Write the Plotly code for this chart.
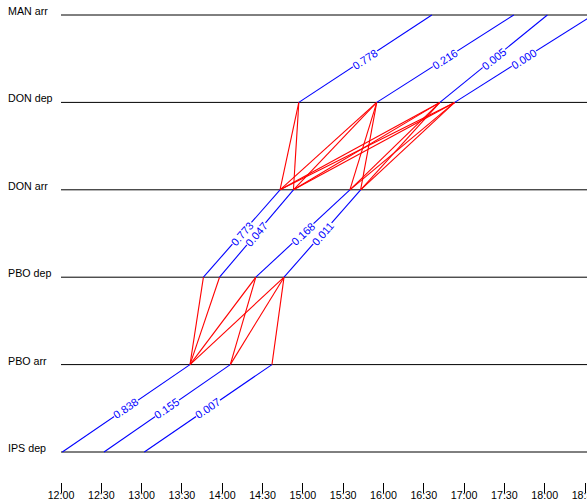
import math
import plotly.graph_objects as go

# ---- data ----
stations = ["IPS dep", "PBO arr", "PBO dep", "DON arr", "DON dep", "MAN arr"]

ips_dep = ["12:01", "12:32", "13:02"]
pbo_arr = ["13:36", "14:06", "14:37"]
leg1_prob = ["0.838", "0.155", "0.007"]

pbo_dep = ["13:46", "13:58", "14:25", "14:46"]
don_arr = ["14:43", "14:53", "15:35", "15:43"]
leg2_prob = ["0.773", "0.047", "0.168", "0.011"]

don_dep = ["14:57", "15:55", "16:42", "16:53"]
man_arr = ["16:36", "17:37", "18:02", "18:36"]
leg3_prob = ["0.778", "0.216", "0.005", "0.000"]

tick_labels = ["12:00", "12:30", "13:00", "13:30", "14:00", "14:30", "15:00",
               "15:30", "16:00", "16:30", "17:00", "17:30", "18:00", "18:30"]

# ---- layout geometry ----
W, H = 587, 500
PX_PER_MIN = 1.3436
X0_PX = 61.0          # pixel of 12:00
PX_PER_ST = 87.4
Y0_PX = 452.0         # pixel of IPS dep
MB = 18
plot_h = H - MB
x_range = [-X0_PX / PX_PER_MIN, (W - X0_PX) / PX_PER_MIN]
y_range = [-(plot_h - Y0_PX) / PX_PER_ST, Y0_PX / PX_PER_ST]


def mins(t):
    h, m = t.split(":")
    return (int(h) - 12) * 60 + int(m)


legs = [
    (0, ips_dep, pbo_arr, leg1_prob),
    (2, pbo_dep, don_arr, leg2_prob),
    (4, don_dep, man_arr, leg3_prob),
]
transfers = [(1, pbo_arr, pbo_dep), (3, don_arr, don_dep)]

fig = go.Figure()
FONT = "Liberation Sans, Arial, Helvetica, sans-serif"

# horizontal station lines
for i, s in enumerate(stations):
    fig.add_trace(go.Scatter(x=[0, x_range[1]], y=[i, i], mode="lines",
                             line=dict(color="black", width=1),
                             hoverinfo="skip", showlegend=False))

# transfer lines (red)
for si, arr, dep in transfers:
    for a in arr:
        for d in dep:
            if mins(d) > mins(a):
                fig.add_trace(go.Scatter(x=[mins(a), mins(d)], y=[si, si + 1],
                                         mode="lines",
                                         line=dict(color="#ff0000", width=1.1),
                                         hoverinfo="skip", showlegend=False))

annotations = []
# train lines (blue)
for si, dep, arr, prob in legs:
    for d, a, p in zip(dep, arr, prob):
        x0, x1 = mins(d), mins(a)
        fig.add_trace(go.Scatter(x=[x0, x1], y=[si, si + 1], mode="lines",
                                 line=dict(color="#0000ff", width=1.1),
                                 hoverinfo="skip", showlegend=False))
        ang = math.degrees(math.atan2(PX_PER_ST, (x1 - x0) * PX_PER_MIN))
        annotations.append(dict(x=(x0 + x1) / 2, y=si + 0.5, text=p,
                                showarrow=False, textangle=-ang,
                                font=dict(color="#0000ff", size=11, family=FONT),
                                bgcolor="white", borderpad=0))

# station labels
for i, s in enumerate(stations):
    annotations.append(dict(xref="paper", x=6.2 / W, xanchor="left",
                            y=i, yanchor="middle", yshift=4, text=s,
                            showarrow=False,
                            font=dict(color="black", size=10.7, family=FONT)))

fig.update_layout(
    width=W, height=H,
    margin=dict(l=0, r=0, t=0, b=MB),
    plot_bgcolor="white", paper_bgcolor="white",
    showlegend=False,
    annotations=annotations,
    xaxis=dict(range=x_range, showgrid=False, zeroline=False, showline=False,
               tickmode="array",
               tickvals=[30 * k for k in range(len(tick_labels))],
               ticktext=tick_labels, ticks="outside", ticklen=10,
               tickcolor="black", tickwidth=1, ticklabelstandoff=-7,
               ticklabeloverflow="allow",
               tickfont=dict(size=10.7, color="black", family=FONT),
               automargin=False, fixedrange=True),
    yaxis=dict(range=y_range, showgrid=False, zeroline=False, showline=False,
               showticklabels=False, ticks="", automargin=False,
               fixedrange=True),
)

fig.write_html("out.html", config={"displayModeBar": False},
               post_script="document.body.style.margin='0';"
                           "document.body.style.overflow='hidden';")
